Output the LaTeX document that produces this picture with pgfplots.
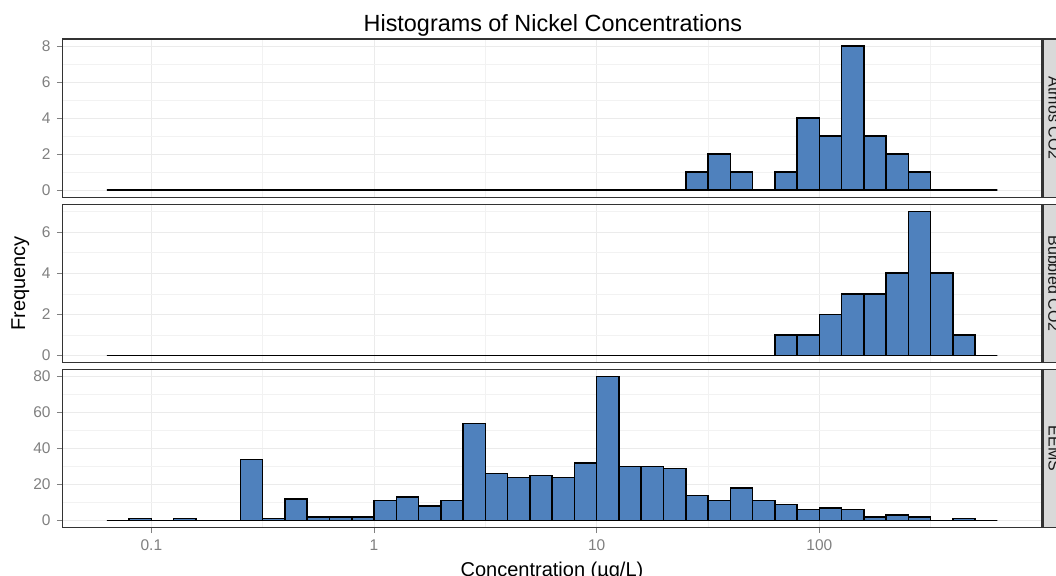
\documentclass[border=0pt]{standalone}
\usepackage{pgfplots}
\usepackage{pgfplotstable}
\pgfplotsset{compat=1.18}
\usepackage{fontspec}
\setmainfont{Liberation Sans}
\definecolor{barblue}{HTML}{4F81BD}

\pgfplotstableread{
x atmos bubbled eems
-1.2 0 0 0
-1.1 0 0 1
-1.0 0 0 0
-0.9 0 0 1
-0.8 0 0 0
-0.7 0 0 0
-0.6 0 0 34
-0.5 0 0 1
-0.4 0 0 12
-0.3 0 0 2
-0.2 0 0 2
-0.1 0 0 2
0.0 0 0 11
0.1 0 0 13
0.2 0 0 8
0.3 0 0 11
0.4 0 0 54
0.5 0 0 26
0.6 0 0 24
0.7 0 0 25
0.8 0 0 24
0.9 0 0 32
1.0 0 0 80
1.1 0 0 30
1.2 0 0 30
1.3 0 0 29
1.4 1 0 14
1.5 2 0 11
1.6 1 0 18
1.7 0 0 11
1.8 1 1 9
1.9 4 1 6
2.0 3 2 7
2.1 8 3 6
2.2 3 3 2
2.3 2 4 3
2.4 1 7 2
2.5 0 4 0
2.6 0 1 1
2.7 0 0 0
2.8 0 0 0
}\histdata

\pgfplotsset{
  panel/.style={
    scale only axis,
    width=979.7pt, height=158.4pt,
    anchor=south west,
    xmin=-1.4, xmax=3.0,
    axis line style={black!80, line width=1.5pt},
    tick align=outside,
    xtick={-1,0,1,2},
    minor xtick={-0.5,0.5,1.5,2.5},
    xtick pos=bottom, ytick pos=left,
    grid=both,
    major grid style={black!8, line width=0.9pt},
    minor grid style={black!5, line width=0.45pt},
    tick style={black!50, line width=0.9pt},
    major tick length=5.5pt,
    minor tick length=0pt,
    /pgf/number format/assume math mode=true,
    ticklabel style={font=\fontsize{15.5}{18}\selectfont, text=black!50},
    yticklabel style={inner sep=0pt, xshift=-6pt},
    xticklabel style={inner sep=0pt, yshift=-6pt},
  },
  bars/.style={ybar interval, fill=barblue, draw=black, line width=1.5pt},
}

\begin{document}
\begin{tikzpicture}[x=1pt,y=1pt]
\useasboundingbox (0,0) rectangle (1056,575);
\clip (0,0) rectangle (1056,575);

% Atmos CO2
\begin{axis}[panel, at={(62.3pt,377.7pt)},
  ymin=-0.4, ymax=8.4, ytick={0,2,4,6,8}, minor ytick={1,3,5,7},
  xticklabels={}, x tick style={draw=none}]
\addplot[bars] table[x=x, y=atmos] {\histdata};
\end{axis}

% Bubbled CO2
\begin{axis}[panel, at={(62.3pt,212.3pt)},
  ymin=-0.35, ymax=7.35, ytick={0,2,4,6}, minor ytick={1,3,5,7},
  xticklabels={}, x tick style={draw=none}]
\addplot[bars] table[x=x, y=bubbled] {\histdata};
\end{axis}

% EEMS
\begin{axis}[panel, at={(62.3pt,47.3pt)},
  ymin=-4, ymax=84, ytick={0,20,40,60,80}, minor ytick={10,30,50,70},
  xticklabels={0.1,1,10,100}]
\addplot[bars] table[x=x, y=eems] {\histdata};
\end{axis}

% strips
\foreach \yb/\lab in {377.7/Atmos CO2, 212.3/Bubbled CO2, 47.3/EEMS}{
  \fill[black!15] (1043.3,\yb) rectangle (1066,\yb+158.4);
  \draw[black!80, line width=1.5pt] (1043.3,\yb) rectangle (1066,\yb+158.4);
  \node[rotate=-90, anchor=center, inner sep=0pt, font=\fontsize{16}{19}\selectfont, text=black!90]
    at (1054,\yb+79.2) {\lab};
}

% titles
\node[anchor=base, font=\fontsize{23.4}{28}\selectfont, inner sep=0pt] at (552.9,543.3) {Histograms of Nickel Concentrations};
\node[anchor=base, rotate=90, font=\fontsize{20}{24}\selectfont, inner sep=0pt] at (25,291.6) {Frequency};
\node[anchor=base, font=\fontsize{20}{24}\selectfont, inner sep=0pt] at (552,-1) {Concentration (µg/L)};
\end{tikzpicture}
\end{document}
